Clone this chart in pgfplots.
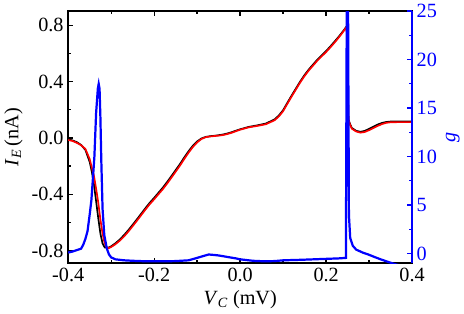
\documentclass[border=0pt]{standalone}
\usepackage{fontspec}
\setmainfont{Liberation Serif}
\usepackage{pgfplots}
\pgfplotsset{compat=1.18}
\usepackage{pgfplotstable}

% I_E (red, measured)
\pgfplotstableread{
x y
-0.400 -0.015
-0.390 -0.022
-0.380 -0.035
-0.370 -0.052
-0.360 -0.078
-0.350 -0.150
-0.345 -0.210
-0.340 -0.270
-0.335 -0.360
-0.330 -0.460
-0.325 -0.580
-0.320 -0.680
-0.315 -0.750
-0.310 -0.780
-0.305 -0.782
-0.300 -0.775
-0.290 -0.755
-0.280 -0.730
-0.270 -0.700
-0.260 -0.665
-0.250 -0.627
-0.240 -0.588
-0.230 -0.548
-0.220 -0.508
-0.210 -0.470
-0.200 -0.436
-0.190 -0.400
-0.180 -0.365
-0.170 -0.325
-0.160 -0.283
-0.150 -0.240
-0.140 -0.197
-0.130 -0.150
-0.120 -0.105
-0.110 -0.065
-0.100 -0.032
-0.090 -0.008
-0.080 0.005
-0.070 0.010
-0.060 0.013
-0.050 0.016
-0.040 0.020
-0.030 0.027
-0.020 0.036
-0.010 0.047
0.000 0.058
0.020 0.075
0.040 0.085
0.060 0.097
0.080 0.125
0.090 0.152
0.100 0.190
0.110 0.243
0.120 0.295
0.130 0.345
0.140 0.395
0.150 0.440
0.160 0.480
0.170 0.515
0.180 0.550
0.190 0.580
0.200 0.610
0.210 0.643
0.220 0.678
0.230 0.715
0.240 0.755
0.248 0.790
0.250 0.400
0.252 0.130
0.256 0.090
0.260 0.065
0.270 0.045
0.280 0.037
0.290 0.042
0.300 0.055
0.310 0.070
0.320 0.085
0.330 0.098
0.340 0.107
0.350 0.111
0.370 0.112
0.400 0.112
}\redtab

% I_E (black, calculated)
\pgfplotstableread{
x y
-0.400 -0.010
-0.390 -0.018
-0.380 -0.030
-0.370 -0.050
-0.360 -0.085
-0.350 -0.170
-0.345 -0.240
-0.340 -0.330
-0.335 -0.450
-0.330 -0.570
-0.325 -0.680
-0.320 -0.750
-0.315 -0.778
-0.310 -0.780
-0.305 -0.778
-0.300 -0.770
-0.290 -0.748
-0.280 -0.722
-0.270 -0.690
-0.260 -0.655
-0.250 -0.617
-0.240 -0.578
-0.230 -0.538
-0.220 -0.498
-0.210 -0.460
-0.200 -0.426
-0.190 -0.390
-0.180 -0.354
-0.170 -0.314
-0.160 -0.272
-0.150 -0.229
-0.140 -0.186
-0.130 -0.139
-0.120 -0.095
-0.110 -0.056
-0.100 -0.025
-0.090 -0.004
-0.080 0.007
-0.070 0.012
-0.060 0.015
-0.050 0.019
-0.040 0.024
-0.030 0.031
-0.020 0.040
-0.010 0.051
0.000 0.061
0.020 0.078
0.040 0.089
0.060 0.102
0.080 0.131
0.090 0.159
0.100 0.197
0.110 0.250
0.120 0.302
0.130 0.352
0.140 0.402
0.150 0.447
0.160 0.487
0.170 0.522
0.180 0.557
0.190 0.587
0.200 0.617
0.210 0.650
0.220 0.685
0.230 0.721
0.240 0.760
0.248 0.793
0.250 0.400
0.252 0.130
0.256 0.095
0.260 0.070
0.270 0.050
0.280 0.043
0.290 0.050
0.300 0.064
0.310 0.080
0.320 0.095
0.330 0.106
0.340 0.113
0.350 0.116
0.370 0.117
0.400 0.117
}\blacktab

% g (blue, right axis)
\pgfplotstableread{
x y
-0.400 0.1
-0.390 0.2
-0.380 0.35
-0.370 0.5
-0.365 0.9
-0.360 1.5
-0.355 2.3
-0.350 4.0
-0.346 5.5
-0.342 8.0
-0.339 10.0
-0.335 14.5
-0.331 17.0
-0.329 17.5
-0.327 17.0
-0.325 14.0
-0.323 9.7
-0.320 4.6
-0.316 1.9
-0.310 0.5
-0.305 -0.1
-0.300 -0.4
-0.290 -0.6
-0.270 -0.7
-0.250 -0.75
-0.220 -0.8
-0.180 -0.8
-0.150 -0.78
-0.120 -0.7
-0.100 -0.45
-0.085 -0.25
-0.073 -0.1
-0.060 -0.15
-0.050 -0.2
-0.030 -0.35
-0.010 -0.5
0.000 -0.6
0.030 -0.75
0.055 -0.8
0.080 -0.78
0.100 -0.7
0.140 -0.65
0.170 -0.6
0.200 -0.55
0.230 -0.5
0.246 -0.45
0.248 26
0.251 26
0.253 4
0.256 1.6
0.262 0.8
0.270 0.4
0.285 0.1
0.298 -0.1
0.315 -0.4
0.327 -0.6
0.343 -0.85
0.360 -1.1
0.400 -1.5
}\gtab

\begin{document}
\begin{tikzpicture}
  \pgfplotsset{
    every axis/.append style={
      scale only axis, width=264pt, height=193.5pt,
      xmin=-0.4, xmax=0.4,
      tick align=inside,
      major tick length=4pt, minor tick length=2.5pt,
      font=\fontsize{15.5}{18}\selectfont,
      /pgf/number format/assume math mode=true,
    },
  }
  \begin{axis}[
      ymin=-0.89, ymax=0.9,
      xtick={-0.4,-0.2,0,0.2,0.4}, minor x tick num=1,
      ytick={-0.8,-0.4,0,0.4,0.8}, minor y tick num=1,
      xtick pos=both, ytick pos=left,
      xticklabel style={/pgf/number format/.cd, fixed, fixed zerofill, precision=1},
      yticklabel style={/pgf/number format/.cd, fixed, fixed zerofill, precision=1},
      axis line style={line width=1.2pt},
      tick style={line width=1pt, black},
      xlabel={\textit{V}\textsubscript{\textit{C}} (mV)},
      ylabel={\textit{I}\textsubscript{\textit{E}}\,(nA)},
    ]
    \addplot[black, line width=1.3pt] table {\blacktab};
    \addplot[red, line width=1.3pt] table {\redtab};
  \end{axis}
  \begin{axis}[
      ymin=-1, ymax=25,
      axis y line*=right, axis x line=none,
      ytick={0,5,10,15,20,25}, minor y tick num=1,
      y axis line style={blue, line width=1.2pt},
      ytick style={blue, line width=1pt},
      yticklabel style={blue},
      ylabel={\textit{g}}, ylabel style={blue},
    ]
    \addplot[blue, line width=1.7pt] table {\gtab};
  \end{axis}
\end{tikzpicture}
\end{document}
